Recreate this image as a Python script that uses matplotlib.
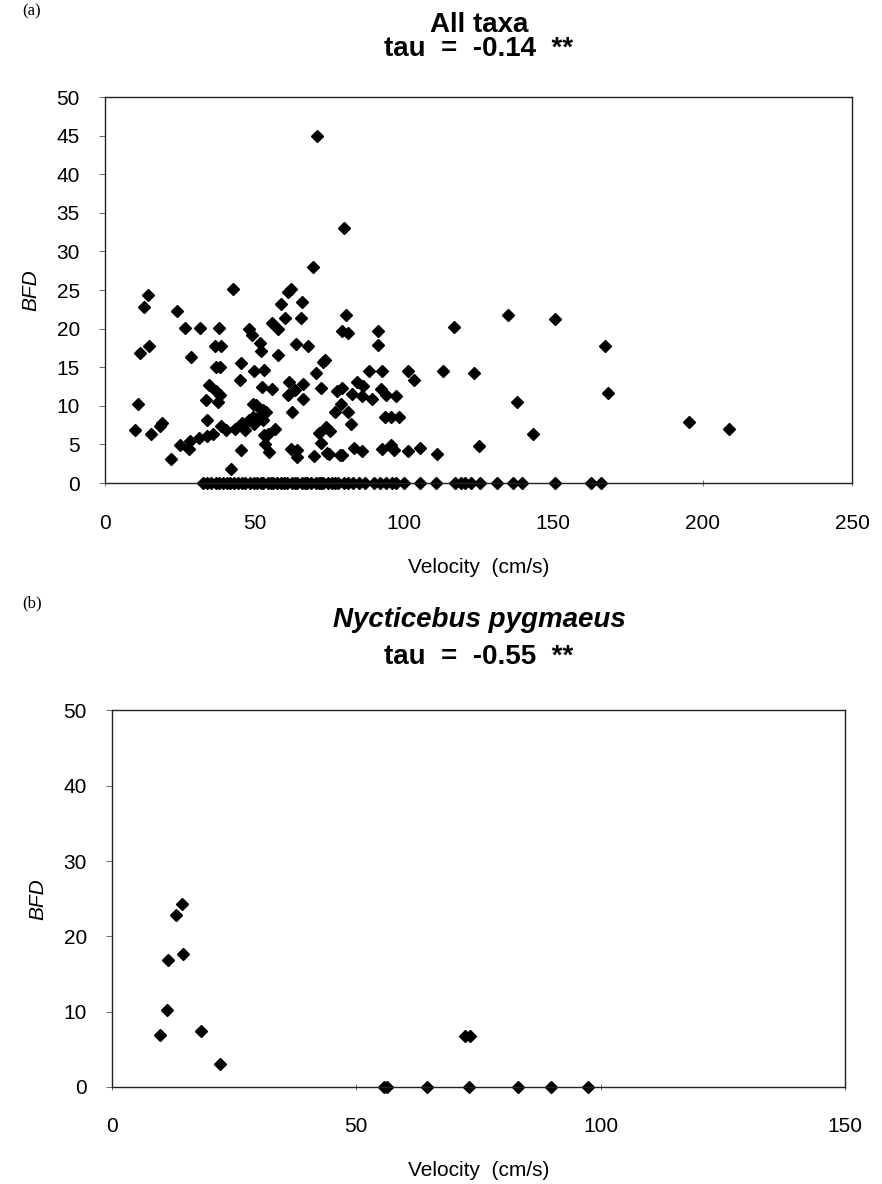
import matplotlib
matplotlib.use("Agg")
import matplotlib.pyplot as plt

plt.rcParams['font.family'] = ['Liberation Sans Narrow', 'Liberation Sans', 'DejaVu Sans']

# (a) all taxa: velocity (cm/s) and BFD
all_vel = [70.8, 79.9, 69.6, 42.7, 14.5, 13.1, 24.2, 26.7, 31.8, 38.1, 62.3, 61.2,
           59.0, 65.8, 60.4, 65.7, 56.0, 58.0, 80.6, 79.4, 81.2, 48.1, 49.2, 91.4,
           91.3, 116.9, 134.8, 150.6, 167.4, 168.3, 195.6, 208.8, 51.8, 52.3, 36.8,
           38.8, 11.6, 14.7, 28.7, 58.0, 63.9, 67.9, 73.6, 72.8, 70.6, 45.6, 37.0,
           38.4, 49.8, 53.2, 45.1, 34.8, 37.2, 38.6, 33.8, 37.8, 52.6, 55.8, 61.5,
           63.5, 66.2, 61.4, 66.4, 72.4, 77.5, 79.4, 79.0, 77.0, 81.2, 82.2, 82.8,
           88.5, 92.8, 84.4, 86.4, 86.1, 89.4, 92.5, 93.9, 97.5, 93.6, 95.8, 98.3,
           101.3, 103.3, 113.2, 123.4, 138.0, 143.2, 125.2, 111.1, 101.5, 105.5,
           92.8, 95.8, 96.8, 83.3, 86.0, 75.0, 79.4, 70.0, 74.2, 62.2, 64.2, 64.4,
           11.2, 49.6, 62.6, 53.9, 51.1, 52.8, 49.4, 50.6, 52.8, 34.1, 10.0, 15.4,
           18.3, 19.0, 39.0, 40.6, 43.6, 45.8, 47.0, 48.3, 50.0, 57.0, 54.4, 53.3,
           53.6, 55.0, 71.5, 74.0, 72.2, 45.6, 25.0, 28.3, 28.1, 31.4, 34.2, 36.0,
           22.2, 42.2, 78.8, 75.2]
all_bfd = [44.9, 33.0, 28.0, 25.1, 24.3, 22.8, 22.3, 20.1, 20.1, 20.1, 25.1, 24.8,
           23.2, 23.4, 21.4, 21.4, 20.8, 19.9, 21.8, 19.7, 19.5, 20.0, 19.2, 19.7,
           17.9, 20.2, 21.8, 21.3, 17.7, 11.7, 7.9, 7.0, 18.2, 17.1, 17.8,
           17.8, 16.8, 17.8, 16.3, 16.6, 18.0, 17.7, 16.0, 15.7, 14.3, 15.5, 15.0,
           15.0, 14.5, 14.6, 13.4, 12.7, 11.9, 11.4, 10.7, 10.5, 12.5, 12.2, 13.1,
           12.1, 12.8, 11.4, 10.9, 12.3, 11.9, 12.3, 10.3, 9.2, 9.2, 7.7, 11.6,
           14.5, 14.5, 13.1, 12.6, 11.3, 10.9, 12.2, 11.4, 11.3, 8.6, 8.6, 8.6,
           14.5, 13.3, 14.5, 14.3, 10.5, 6.4, 4.8, 3.8, 4.2, 4.6,
           4.4, 4.9, 4.3, 4.6, 4.1, 3.8, 3.6, 3.5, 3.9, 4.4, 4.3, 3.4,
           10.3, 10.2, 9.2, 9.2, 8.6, 8.2, 8.6, 10.1, 9.5, 8.2, 6.9, 6.3,
           7.4, 7.8, 7.4, 6.9, 7.0, 7.8, 6.9, 8.2, 7.6, 7.0, 6.4, 6.2,
           5.1, 4.0, 6.5, 7.2, 5.2, 4.3, 4.9, 5.5, 4.4, 5.8, 6.1, 6.4,
           3.1, 1.8, 3.6, 6.8]
all_zero_vel = [32.7, 34.0, 35.5, 37.0, 38.2, 39.4, 41.0, 42.0, 43.2, 44.5, 46.0,
                46.7, 48.5, 50.0, 51.0, 52.2, 53.0, 54.5, 55.6, 56.3, 57.5, 59.0,
                60.0, 61.0, 62.5, 63.5, 64.4, 66.0, 67.0, 67.5, 69.0, 70.5, 71.5,
                72.4, 73.0, 74.5, 76.0, 77.0, 78.0, 80.0, 81.5, 83.1, 85.0, 87.0,
                89.9, 92.0, 94.0, 96.0, 97.5, 100.0, 105.3, 110.8, 117.2, 119.0,
                120.6, 122.5, 125.6, 131.1, 136.5, 139.6, 150.5, 162.8, 166.0]

# (b) Nycticebus pygmaeus
ny_vel = [9.8, 11.2, 11.5, 13.0, 14.4, 14.6, 18.3, 22.2, 72.3, 73.3,
          55.6, 56.3, 64.4, 73.0, 83.1, 89.9, 97.5]
ny_bfd = [6.9, 10.2, 16.8, 22.8, 24.3, 17.7, 7.4, 3.0, 6.7, 6.7,
          0, 0, 0, 0, 0, 0, 0]

fig = plt.figure(figsize=(8.82, 11.84), dpi=100)
ax1 = fig.add_axes([0.119, 0.592, 0.847, 0.326])
ax2 = fig.add_axes([0.127, 0.082, 0.831, 0.318])


def style(ax, xmax, ystep):
    ax.set_xlim(0, xmax)
    ax.set_ylim(0, 50)
    ax.set_xticks(range(0, xmax + 1, 50))
    ax.set_yticks(range(0, 51, ystep))
    for sp in ax.spines.values():
        sp.set_linewidth(1.0)
        sp.set_color('#222222')
    ax.tick_params(axis='both', labelsize=15, length=4, width=0.6, color='#555555')
    ax.tick_params(axis='x', direction='inout', pad=20)
    ax.tick_params(axis='y', direction='out', pad=14)
    ax.set_xlabel('Velocity  (cm/s)', fontsize=15, labelpad=18)
    ax.set_ylabel('BFD', fontsize=15, style='italic', labelpad=12)


ax1.plot(all_vel, all_bfd, 'D', color='black', ms=6.6, clip_on=False, ls='none')
ax1.plot(all_zero_vel, [0] * len(all_zero_vel), 'D', color='black', ms=6.6,
         clip_on=False, ls='none')
style(ax1, 250, 5)
fig.text(0.543, 1 - 32 / 1184, 'All taxa', ha='center', va='baseline', fontsize=20,
         weight='bold')
fig.text(0.543, 1 - 56 / 1184, 'tau  =  -0.14  **', ha='center', va='baseline',
         fontsize=20, weight='bold')
fig.text(0.025, 0.990, '(a)', ha='left', va='center', fontsize=12,
         family=['Liberation Serif', 'DejaVu Serif'])

ax2.plot(ny_vel, ny_bfd, 'D', color='black', ms=6.6, clip_on=False, ls='none')
style(ax2, 150, 10)
fig.text(0.543, 1 - 627 / 1184, 'Nycticebus pygmaeus', ha='center', va='baseline',
         fontsize=20, weight='bold', style='italic')
fig.text(0.543, 1 - 664 / 1184, 'tau  =  -0.55  **', ha='center', va='baseline',
         fontsize=20, weight='bold')
fig.text(0.025, 0.490, '(b)', ha='left', va='center', fontsize=12,
         family=['Liberation Serif', 'DejaVu Serif'])

fig.savefig('out.png', dpi=100)
